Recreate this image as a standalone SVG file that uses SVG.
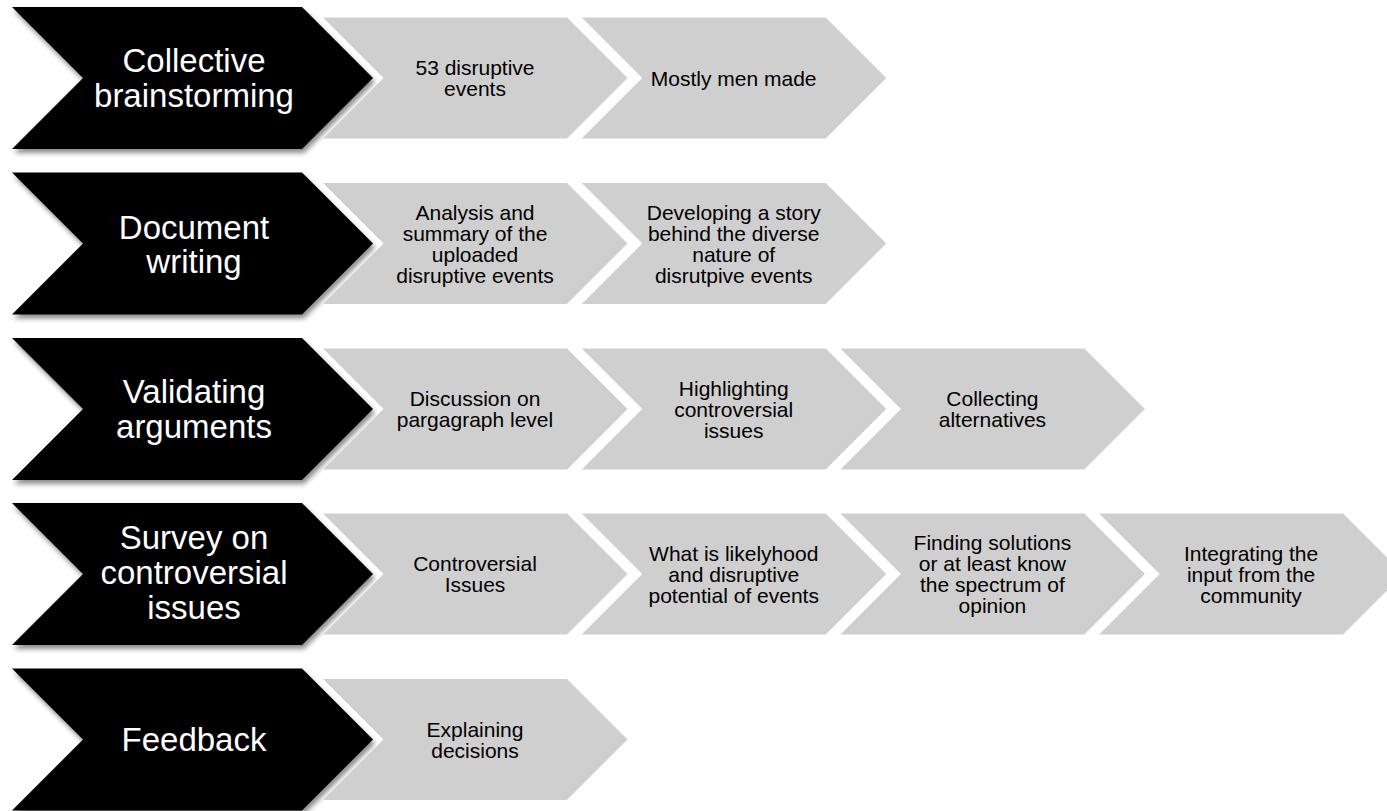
<svg xmlns="http://www.w3.org/2000/svg" xmlns:xlink="http://www.w3.org/1999/xlink" width="1387" height="811" viewBox="0 0 1387 811">
<style>
.blk{fill:#000000;filter:url(#sh);}
.gry{fill:#CFCFCF;}
.bt{font-family:"Liberation Sans",Arial,sans-serif;font-size:33px;fill:#FFFFFF;text-anchor:middle;}
.gt{font-family:"Liberation Sans",Arial,sans-serif;font-size:21px;fill:#000000;text-anchor:middle;}
</style>
<defs>
<filter id="sh" x="-10%" y="-10%" width="125%" height="130%">
<feDropShadow dx="2" dy="4" stdDeviation="2.5" flood-color="#000000" flood-opacity="0.45"/>
</filter>
<polygon id="bch" points="12,-71 302,-71 373,0 302,71 12,71 83,0"/>
<polygon id="gch" points="0,-60.5 244,-60.5 304.5,0 244,60.5 0,60.5 60.5,0"/>
</defs>
<rect width="1387" height="811" fill="#FFFFFF"/>
<g id="connectors"/>

<!-- Row 1 -->
<g id="collective-brainstorming" transform="translate(0,78)">
<use xlink:href="#bch" class="blk"/>
<text class="bt"><tspan x="194" y="-6">Collective</tspan><tspan x="194" y="29">brainstorming</tspan></text>
</g>
<g id="r1-disruptive-events" transform="translate(323,78)">
<use xlink:href="#gch" class="gry"/>
<text class="gt"><tspan x="152" y="-3">53 disruptive</tspan><tspan x="152" y="18">events</tspan></text>
</g>
<g id="r1-men-made" transform="translate(581.7,78)">
<use xlink:href="#gch" class="gry"/>
<text class="gt"><tspan x="152" y="7.5">Mostly men made</tspan></text>
</g>

<!-- Row 2 -->
<g id="document-writing" transform="translate(0,243.5)">
<use xlink:href="#bch" class="blk"/>
<text class="bt"><tspan x="194" y="-5">Document</tspan><tspan x="194" y="29">writing</tspan></text>
</g>
<g id="r2-analysis" transform="translate(323,243.5)">
<use xlink:href="#gch" class="gry"/>
<text class="gt"><tspan x="152" y="-24">Analysis and</tspan><tspan x="152" y="-3">summary of the</tspan><tspan x="152" y="18">uploaded</tspan><tspan x="152" y="39">disruptive events</tspan></text>
</g>
<g id="r2-story" transform="translate(581.7,243.5)">
<use xlink:href="#gch" class="gry"/>
<text class="gt"><tspan x="152" y="-24">Developing a story</tspan><tspan x="152" y="-3">behind the diverse</tspan><tspan x="152" y="18">nature of</tspan><tspan x="152" y="39">disrutpive events</tspan></text>
</g>

<!-- Row 3 -->
<g id="validating-arguments" transform="translate(0,409)">
<use xlink:href="#bch" class="blk"/>
<text class="bt"><tspan x="194" y="-6.5">Validating</tspan><tspan x="194" y="28.5">arguments</tspan></text>
</g>
<g id="r3-discussion" transform="translate(323,409)">
<use xlink:href="#gch" class="gry"/>
<text class="gt"><tspan x="152" y="-3">Discussion on</tspan><tspan x="152" y="18">pargagraph level</tspan></text>
</g>
<g id="r3-highlighting" transform="translate(581.7,409)">
<use xlink:href="#gch" class="gry"/>
<text class="gt"><tspan x="152" y="-13.5">Highlighting</tspan><tspan x="152" y="7.5">controversial</tspan><tspan x="152" y="28.5">issues</tspan></text>
</g>
<g id="r3-collecting" transform="translate(840.4,409)">
<use xlink:href="#gch" class="gry"/>
<text class="gt"><tspan x="152" y="-3">Collecting</tspan><tspan x="152" y="18">alternatives</tspan></text>
</g>

<!-- Row 4 -->
<g id="survey-controversial-issues" transform="translate(0,574)">
<use xlink:href="#bch" class="blk"/>
<text class="bt"><tspan x="194" y="-25.5">Survey on</tspan><tspan x="194" y="9.5">controversial</tspan><tspan x="194" y="44.5">issues</tspan></text>
</g>
<g id="r4-controversial" transform="translate(323,574)">
<use xlink:href="#gch" class="gry"/>
<text class="gt"><tspan x="152" y="-3">Controversial</tspan><tspan x="152" y="18">Issues</tspan></text>
</g>
<g id="r4-likelyhood" transform="translate(581.7,574)">
<use xlink:href="#gch" class="gry"/>
<text class="gt"><tspan x="152" y="-13.5">What is likelyhood</tspan><tspan x="152" y="7.5">and disruptive</tspan><tspan x="152" y="28.5">potential of events</tspan></text>
</g>
<g id="r4-solutions" transform="translate(840.4,574)">
<use xlink:href="#gch" class="gry"/>
<text class="gt"><tspan x="152" y="-24">Finding solutions</tspan><tspan x="152" y="-3">or at least know</tspan><tspan x="152" y="18">the spectrum of</tspan><tspan x="152" y="39">opinion</tspan></text>
</g>
<g id="r4-integrating" transform="translate(1099.1,574)">
<use xlink:href="#gch" class="gry"/>
<text class="gt"><tspan x="152" y="-13.5">Integrating the</tspan><tspan x="152" y="7.5">input from the</tspan><tspan x="152" y="28.5">community</tspan></text>
</g>

<!-- Row 5 -->
<g id="feedback" transform="translate(0,739.5)">
<use xlink:href="#bch" class="blk"/>
<text class="bt"><tspan x="194" y="11.5">Feedback</tspan></text>
</g>
<g id="r5-explaining" transform="translate(323,739.5)">
<use xlink:href="#gch" class="gry"/>
<text class="gt"><tspan x="152" y="-3">Explaining</tspan><tspan x="152" y="18">decisions</tspan></text>
</g>
</svg>
